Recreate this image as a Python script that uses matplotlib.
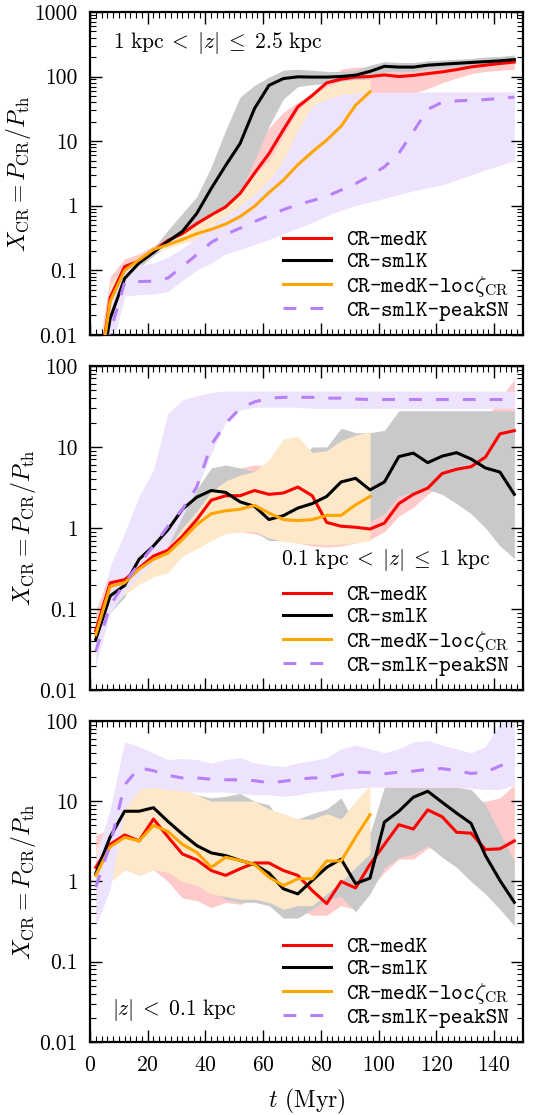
import numpy as np
import matplotlib
matplotlib.use("Agg")
import matplotlib.pyplot as plt
from matplotlib.ticker import FixedLocator, MultipleLocator, LogLocator, NullFormatter
from matplotlib.font_manager import FontProperties

plt.rcParams['font.family'] = 'serif'
plt.rcParams['font.serif'] = ['cmr10']
plt.rcParams['mathtext.fontset'] = 'cm'
plt.rcParams['axes.formatter.use_mathtext'] = True

# time (Myr)
t = [2, 7, 12, 17, 22, 27, 32, 37, 42, 47, 52, 57, 62, 67, 72, 77, 82, 87, 92, 97,
     102, 107, 112, 117, 122, 127, 132, 137, 142, 147]
t_loc = t[:20]

# ---- 1 kpc < |z| <= 2.5 kpc
top_med = [0.001, 0.038, 0.114, 0.14, 0.20, 0.29, 0.37, 0.53, 0.72, 0.96, 1.55, 3.2, 6.4, 15, 34, 51, 80, 91, 98, 100,
           106, 100, 104, 111, 118, 128, 141, 150, 159, 168]
top_med_lo = [0.001, 0.02, 0.09, 0.12, 0.17, 0.25, 0.32, 0.45, 0.6, 0.8, 1.1, 1.8, 3, 6, 15, 30, 50, 60, 60, 57,
              55, 55, 55, 65, 80, 95, 110, 120, 125, 130]
top_med_hi = [0.003, 0.08, 0.15, 0.18, 0.24, 0.32, 0.45, 0.7, 1.1, 2.0, 4.5, 9, 16, 28, 40, 55, 80, 130, 140, 140,
              140, 135, 140, 150, 160, 170, 180, 190, 200, 210]
top_sml = [0.001, 0.018, 0.075, 0.13, 0.19, 0.28, 0.40, 0.76, 1.85, 4.2, 9.2, 32, 73, 93, 99, 98, 98, 100, 105, 120,
           144, 140, 140, 150, 155, 160, 165, 170, 175, 183]
top_sml_lo = [0.001, 0.012, 0.07, 0.11, 0.17, 0.24, 0.33, 0.45, 0.6, 0.9, 1.6, 5, 17, 45, 70, 75, 78, 80, 85, 95,
              120, 120, 120, 130, 135, 140, 145, 150, 155, 160]
top_sml_hi = [0.003, 0.03, 0.1, 0.15, 0.22, 0.42, 0.76, 1.38, 4.0, 14.8, 48, 73, 98, 125, 130, 125, 120, 120, 125, 150,
              170, 165, 165, 175, 180, 185, 190, 200, 205, 215]
top_loc = [0.001, 0.033, 0.10, 0.145, 0.21, 0.25, 0.30, 0.37, 0.43, 0.52, 0.68, 0.98, 1.6, 2.5, 4.3, 6.8, 10.4, 17, 36, 58]
top_loc_lo = [0.001, 0.015, 0.08, 0.13, 0.19, 0.22, 0.26, 0.3, 0.35, 0.4, 0.5, 0.65, 0.9, 1.3, 2.0, 4, 10, 30, 45, 55]
top_loc_hi = [0.003, 0.06, 0.12, 0.16, 0.22, 0.3, 0.38, 0.5, 0.7, 1.0, 1.7, 3.0, 5, 12, 30, 50, 70, 85, 90, 90]
top_pk = [0.001, 0.011, 0.065, 0.067, 0.068, 0.076, 0.115, 0.175, 0.27, 0.36, 0.45, 0.57, 0.70, 0.87, 1.04, 1.2, 1.4, 1.75, 2.2, 2.9,
          4.0, 6.5, 14, 31, 40, 42, 43, 44, 46, 48]
top_pk_lo = [0.001, 0.005, 0.04, 0.042, 0.043, 0.047, 0.07, 0.1, 0.13, 0.18, 0.21, 0.25, 0.3, 0.37, 0.45, 0.55, 0.7, 0.85, 1.0, 1.15,
             1.3, 1.5, 1.7, 1.9, 2.1, 2.5, 3.0, 3.6, 4.2, 5.0]
top_pk_hi = [0.002, 0.03, 0.11, 0.12, 0.13, 0.16, 0.22, 0.32, 0.5, 0.7, 1.0, 1.5, 2.5, 5, 15, 35, 45, 52, 55, 57,
             57, 57, 57, 58, 58, 58, 58, 58, 58, 58]

# ---- 0.1 kpc < |z| <= 1 kpc
mid_med = [0.054, 0.21, 0.23, 0.32, 0.45, 0.53, 0.79, 1.27, 2.2, 2.5, 2.5, 2.9, 2.6, 2.7, 3.2, 2.5, 1.17, 1.05, 1.02, 0.97,
           1.15, 2.0, 2.6, 3.1, 4.7, 5.3, 5.7, 7.5, 14.5, 15.9]
mid_med_lo = [0.035, 0.12, 0.17, 0.22, 0.3, 0.35, 0.45, 0.6, 0.8, 0.9, 0.9, 0.85, 0.75, 0.7, 0.65, 0.6, 0.58, 0.6, 0.65, 0.72,
              0.9, 1.4, 1.8, 2.6, 3.4, 3.6, 3.6, 3.5, 5, 7]
mid_med_hi = [0.09, 0.3, 0.3, 0.38, 0.5, 0.62, 1.1, 1.8, 3.0, 4.5, 5.5, 6.0, 5.8, 5.5, 6.0, 5.5, 5.0, 5.5, 6, 6,
              6, 8, 12, 16, 22, 25, 26, 22, 40, 68]
mid_sml = [0.042, 0.145, 0.195, 0.41, 0.6, 0.95, 1.7, 2.4, 2.9, 2.75, 2.1, 1.85, 1.27, 1.42, 1.76, 2.0, 2.45, 3.7, 4.1, 2.95,
           3.7, 7.6, 8.4, 6.4, 7.7, 8.5, 7.1, 5.5, 4.9, 2.6]
mid_sml_lo = [0.03, 0.09, 0.14, 0.3, 0.4, 0.6, 0.9, 1.3, 1.5, 1.5, 1.2, 0.9, 0.7, 0.7, 0.7, 0.8, 0.8, 0.9, 1.0, 1.2,
              1.5, 2.5, 2.7, 3.0, 2.6, 2.0, 1.5, 1.0, 0.6, 0.42]
mid_sml_hi = [0.06, 0.2, 0.23, 0.5, 0.8, 1.3, 2.0, 3.0, 5.5, 6.0, 5.5, 5.0, 4.3, 5.5, 7, 10, 10, 17, 15, 15,
              16, 28, 28, 28, 28, 28, 28, 28, 28, 28]
mid_loc = [0.048, 0.19, 0.21, 0.31, 0.41, 0.49, 0.72, 1.1, 1.5, 1.63, 1.7, 1.9, 1.53, 1.27, 1.23, 1.27, 1.43, 1.43, 1.93, 2.45]
mid_loc_lo = [0.035, 0.12, 0.15, 0.2, 0.25, 0.28, 0.45, 0.55, 0.7, 0.85, 0.9, 0.9, 0.75, 0.68, 0.65, 0.63, 0.62, 0.63, 0.65, 0.7]
mid_loc_hi = [0.07, 0.25, 0.25, 0.35, 0.45, 0.55, 1.0, 1.6, 2.8, 3.8, 4.5, 5.0, 7.0, 12.5, 13.5, 8.5, 9.0, 12, 14, 15.5]
mid_pk = [0.03, 0.11, 0.21, 0.36, 0.6, 1.05, 1.7, 3.2, 10.6, 19.5, 30, 36, 40, 41, 41, 41, 40, 40, 39, 38.5,
          38.5, 38.5, 38.5, 38.5, 38.5, 38.5, 38.5, 38.5, 38.5, 38.5]
mid_pk_lo = [0.02, 0.09, 0.16, 0.25, 0.37, 0.6, 1.4, 3.0, 8.4, 20, 28.5, 31, 31, 31, 31, 30, 30, 30, 30, 30,
             30, 30, 30, 30, 30, 30, 30, 30, 30, 30]
mid_pk_hi = [0.04, 0.34, 0.87, 2.45, 5.2, 26, 38, 43, 47, 49, 49, 49, 49, 49, 49, 49, 49, 49, 49, 49,
             49, 49, 49, 49, 49, 49, 49, 49, 49, 49]

# ---- |z| < 0.1 kpc
bot_med = [1.5, 2.9, 3.8, 3.2, 6.0, 3.6, 2.2, 1.86, 1.37, 1.19, 1.44, 1.7, 1.7, 1.37, 1.19, 0.77, 0.53, 1.0, 0.83, 1.63,
           2.9, 5.1, 4.5, 7.8, 6.4, 4.1, 4.0, 2.5, 2.55, 3.2]
bot_med_lo = [0.6, 1.0, 1.4, 1.2, 1.4, 1.0, 0.62, 0.58, 0.47, 0.55, 0.52, 0.6, 0.55, 0.52, 0.45, 0.38, 0.38, 0.5, 0.45, 0.8,
              1.3, 1.9, 1.9, 2.6, 2.6, 2.2, 1.6, 1.5, 1.5, 1.3]
bot_med_hi = [3.8, 4.5, 6, 6, 10, 8, 5, 4, 3.5, 3, 3.2, 3.5, 4.5, 6, 5, 3.0, 2.0, 2.5, 2.5, 3.0,
              5, 7, 8, 12, 12, 10, 10, 10, 11, 16]
bot_sml = [1.25, 3.6, 7.5, 7.5, 8.3, 5.6, 3.9, 2.8, 2.27, 2.1, 1.83, 1.63, 1.27, 0.81, 0.70, 1.03, 1.5, 1.9, 0.94, 1.1,
           5.5, 7.5, 11.2, 13.3, 9.7, 7.1, 5.3, 2.1, 1.03, 0.55]
bot_sml_lo = [0.8, 2.0, 3.5, 3.5, 4, 2.5, 1.5, 1.0, 0.8, 0.6, 0.55, 0.55, 0.5, 0.35, 0.35, 0.45, 0.6, 0.65, 0.42, 0.7,
              1.5, 2.0, 2.2, 2.8, 2.0, 1.5, 1.0, 0.7, 0.45, 0.28]
bot_sml_hi = [2.0, 5, 14, 15, 15, 15, 14, 12, 11, 11.5, 12.5, 10, 9, 5, 6, 7, 8, 11, 5, 4,
              15, 15, 15, 15, 15, 15, 14, 9, 4, 1.8]
bot_loc = [1.19, 2.7, 3.55, 3.2, 5.0, 4.2, 2.9, 2.3, 1.5, 2.0, 1.83, 1.63, 1.13, 0.89, 1.08, 1.08, 1.8, 1.8, 3.55, 6.8]
bot_loc_lo = [0.4, 1.0, 1.4, 1.2, 1.4, 1.3, 1.0, 0.9, 0.7, 0.65, 0.6, 0.6, 0.55, 0.45, 0.5, 0.5, 0.7, 1.0, 1.5, 2.2]
bot_loc_hi = [2.5, 5, 12, 14, 17, 16, 14, 12, 10, 10, 10, 10, 8, 7, 6, 6, 7, 6, 10, 16]
bot_pk = [0.85, 2.9, 16, 26, 24, 21, 19.5, 19.5, 18.8, 18.5, 18.5, 18, 17, 17.7, 18.8, 19.5, 19.5, 21.5, 23, 22.7,
          22, 23, 23.7, 25, 25.5, 24, 22.2, 23, 27.5, 32]
bot_pk_lo = [0.28, 0.8, 8, 14, 15, 14, 13.5, 13, 13, 13, 12.5, 12, 12, 11.5, 12, 13, 13.5, 14, 14.5, 15,
             15, 15, 15, 15, 15, 15, 14.5, 14, 14, 16]
bot_pk_hi = [2.0, 8, 55, 48, 40, 33, 34, 33, 30, 33, 35, 30, 28, 27, 30, 32, 35, 45, 50, 45,
             40, 45, 55, 57, 50, 45, 40, 48, 95, 100]

labels = ['CR-medK', 'CR-smlK', r'CR-medK-loc$\zeta_{\rm CR}$', 'CR-smlK-peakSN']
c_red = '#ff0000'
c_blk = '#000000'
c_org = '#ffa500'
c_pur = '#b681f7'

fig = plt.figure(figsize=(5.44, 11.15), dpi=100)
ax1 = fig.add_axes([0.1654, 0.6996, 0.796, 0.2897])
ax2 = fig.add_axes([0.1654, 0.3812, 0.796, 0.2906])
ax3 = fig.add_axes([0.1654, 0.0655, 0.796, 0.2879])

panels = [
    (ax1, top_med, top_med_lo, top_med_hi, top_sml, top_sml_lo, top_sml_hi,
     top_loc, top_loc_lo, top_loc_hi, top_pk, top_pk_lo, top_pk_hi, 1000),
    (ax2, mid_med, mid_med_lo, mid_med_hi, mid_sml, mid_sml_lo, mid_sml_hi,
     mid_loc, mid_loc_lo, mid_loc_hi, mid_pk, mid_pk_lo, mid_pk_hi, 100),
    (ax3, bot_med, bot_med_lo, bot_med_hi, bot_sml, bot_sml_lo, bot_sml_hi,
     bot_loc, bot_loc_lo, bot_loc_hi, bot_pk, bot_pk_lo, bot_pk_hi, 100),
]

ttfont = FontProperties(family='cmtt10', size=16)

for (ax, med, med_lo, med_hi, sml, sml_lo, sml_hi, loc, loc_lo, loc_hi,
     pk, pk_lo, pk_hi, ymax) in panels:
    # shaded ranges
    ax.fill_between(t, med_lo, med_hi, color='#ffcaca', lw=0, zorder=1)
    ax.fill_between(t, sml_lo, sml_hi, color='#c9c9c9', lw=0, zorder=1)
    ax.fill_between(t_loc, loc_lo, loc_hi, color='#fde9c9', lw=0, zorder=1)
    ax.fill_between(t, pk_lo, pk_hi, color='#ede3fd', lw=0, zorder=1)
    # median lines
    ax.plot(t, med, color=c_red, lw=2.2, label=labels[0], zorder=3)
    ax.plot(t, sml, color=c_blk, lw=2.2, label=labels[1], zorder=3)
    ax.plot(t_loc, loc, color=c_org, lw=2.2, label=labels[2], zorder=3)
    ax.plot(t, pk, color=c_pur, lw=2.2, ls=(0, (4.2, 4.6)), label=labels[3], zorder=3)

    ax.set_yscale('log')
    ax.set_xlim(0, 150)
    ax.set_ylim(0.01, ymax)
    yt = [0.01, 0.1, 1, 10, 100, 1000]
    yt = [v for v in yt if v <= ymax]
    ax.yaxis.set_major_locator(FixedLocator(yt))
    ax.set_yticklabels([('%g' % v) for v in yt])
    ax.yaxis.set_minor_locator(LogLocator(base=10, subs=np.arange(2, 10)))
    ax.yaxis.set_minor_formatter(NullFormatter())
    ax.xaxis.set_major_locator(MultipleLocator(20))
    ax.xaxis.set_minor_locator(MultipleLocator(2))
    ax.tick_params(which='both', direction='in', top=True, right=True, labelsize=15.5)
    ax.tick_params(which='major', length=8.5, width=1.0)
    ax.tick_params(which='minor', length=4, width=0.8)
    ax.tick_params(axis='y', which='major', pad=9)
    ax.tick_params(axis='x', which='major', pad=10)
    for s in ax.spines.values():
        s.set_linewidth(1.6)
    ax.set_ylabel(r'$X_{\rm CR} = P_{\rm CR}/P_{\rm th}$', fontsize=17, labelpad=1)
    ax.legend(loc='lower right', prop=ttfont, frameon=False, handlelength=2.15,
              handletextpad=0.68, labelspacing=0.06, borderaxespad=0.25)

ax1.tick_params(labelbottom=False)
ax2.tick_params(labelbottom=False)
ax3.set_xlabel(r'$t$ (Myr)', fontsize=17, labelpad=8)

ax1.text(0.053, 0.904, r'$1\ {\rm kpc}\;<\;|z|\;\leq\;2.5\ {\rm kpc}$', transform=ax1.transAxes,
         fontsize=15.5, va='center', ha='left')
ax2.text(0.924, 0.401, r'$0.1\ {\rm kpc}\;<\;|z|\;\leq\;1\ {\rm kpc}$', transform=ax2.transAxes,
         fontsize=15.5, va='center', ha='right')
ax3.text(0.05, 0.10, r'$|z|\;<\;0.1\ {\rm kpc}$', transform=ax3.transAxes,
         fontsize=15.5, va='center', ha='left')

fig.savefig('out.png', dpi=100)
